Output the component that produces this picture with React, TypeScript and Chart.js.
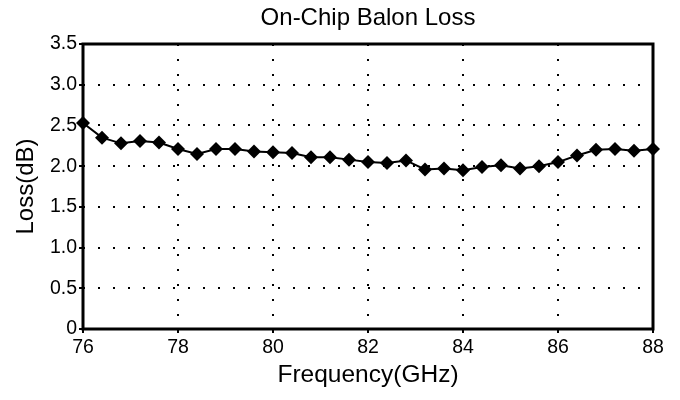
import React, { useEffect, useRef } from "react";
import { Chart, registerables } from "chart.js";

Chart.register(...registerables);

const TITLE = "On-Chip Balon Loss";
const X_TITLE = "Frequency(GHz)";
const Y_TITLE = "Loss(dB)";

const FREQUENCIES = [
  76, 76.4, 76.8, 77.2, 77.6, 78, 78.4, 78.8, 79.2, 79.6, 80, 80.4, 80.8, 81.2,
  81.6, 82, 82.4, 82.8, 83.2, 83.6, 84, 84.4, 84.8, 85.2, 85.6, 86, 86.4, 86.8,
  87.2, 87.6, 88,
];
const LOSS = [
  2.53, 2.35, 2.28, 2.31, 2.29, 2.21, 2.15, 2.21, 2.21, 2.18, 2.17, 2.16, 2.11,
  2.11, 2.08, 2.05, 2.04, 2.07, 1.96, 1.97, 1.95, 1.99, 2.01, 1.97, 2.0, 2.05,
  2.13, 2.2, 2.21, 2.19, 2.21,
];
const X_MIN = 76;
const X_MAX = 88;
const X_STEP = 2;
const Y_MIN = 0;
const Y_MAX = 3.5;
const Y_STEP = 0.5;

const FONT = "'Liberation Sans', Arial, Helvetica, sans-serif";

const boxPlugin = {
  id: "plotBox",
  beforeDatasetsDraw(chart: any) {
    const { ctx, chartArea: a } = chart;
    ctx.save();
    ctx.strokeStyle = "#000";
    ctx.lineWidth = 3;
    ctx.strokeRect(a.left, a.top, a.right - a.left, a.bottom - a.top);
    ctx.restore();
  },
};

export default function App() {
  const ref = useRef<HTMLCanvasElement>(null);

  useEffect(() => {
    if (!ref.current) return;
    const chart = new Chart(ref.current, {
      type: "line",
      data: {
        datasets: [
          {
            data: FREQUENCIES.map((f, i) => ({ x: f, y: LOSS[i] })),
            borderColor: "#000",
            borderWidth: 2,
            pointStyle: "rectRot",
            pointRadius: 7,
            pointBackgroundColor: "#000",
            pointBorderColor: "#000",
            pointBorderWidth: 0,
            tension: 0,
            clip: false as any,
          },
        ],
      },
      plugins: [boxPlugin],
      options: {
        responsive: false,
        animation: false,
        devicePixelRatio: 1,
        layout: { padding: { left: 0, right: 27, top: 0, bottom: 0 } },
        plugins: {
          legend: { display: false },
          tooltip: { enabled: false },
          title: {
            display: true,
            fullSize: false,
            text: TITLE,
            color: "#000",
            font: { family: FONT, size: 24, weight: "normal" },
            padding: { top: 4, bottom: 11.2 },
          },
        },
        scales: {
          x: {
            type: "linear",
            min: X_MIN,
            max: X_MAX,
            afterFit: (s: any) => {
              s.height = 71;
            },
            ticks: {
              stepSize: X_STEP,
              color: "#000",
              font: { family: FONT, size: 19.5 },
              padding: 3,
              maxRotation: 0,
            },
            grid: {
              color: (c: any) =>
                c.tick && (c.tick.value === X_MIN || c.tick.value === X_MAX)
                  ? "rgba(0,0,0,0)"
                  : "#000",
              lineWidth: 2,
              tickColor: "#000",
              tickWidth: 2,
              tickLength: 4,
              tickBorderDash: [],
            },
            border: { display: false, dash: [2, 13] },
            title: {
              display: true,
              text: X_TITLE,
              color: "#000",
              font: { family: FONT, size: 24.5 },
              padding: { top: 0, bottom: 10 },
            },
          },
          y: {
            type: "linear",
            min: Y_MIN,
            max: Y_MAX,
            afterFit: (s: any) => {
              s.width = 83;
            },
            ticks: {
              stepSize: Y_STEP,
              color: "#000",
              font: { family: FONT, size: 19.5 },
              padding: 2,
              callback: (v: any) => (Number(v) === 0 ? "0" : Number(v).toFixed(1)),
            },
            grid: {
              color: (c: any) =>
                c.tick && (c.tick.value === Y_MIN || c.tick.value === Y_MAX)
                  ? "rgba(0,0,0,0)"
                  : "#000",
              lineWidth: 2,
              tickColor: "#000",
              tickWidth: 2,
              tickLength: 4,
              tickBorderDash: [],
            },
            border: { display: false, dash: [2, 13] },
            title: {
              display: true,
              text: Y_TITLE,
              color: "#000",
              font: { family: FONT, size: 24 },
              padding: { top: 12, bottom: 0 },
            },
          },
        },
      } as any,
    });
    return () => chart.destroy();
  }, []);

  return (
    <div style={{ position: "absolute", left: 0, top: 0, width: 680, height: 400, background: "#fff" }}>
      <canvas ref={ref} width={680} height={400} style={{ display: "block" }} />
    </div>
  );
}
